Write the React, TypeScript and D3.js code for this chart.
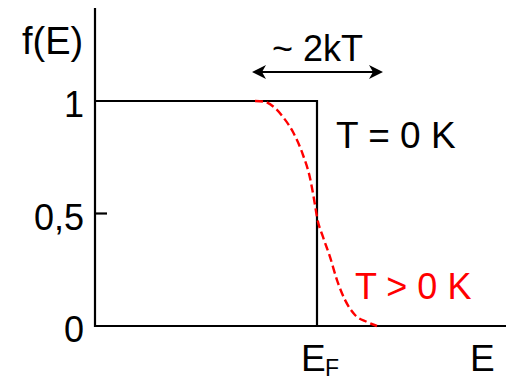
import React from "react";
import * as d3 from "d3";

// Energy (EF = 0, arbitrary units) and occupation f(E)
const curveE = [-3.1, -2.7, -2.1, -1.7, -1.2, -0.7, -0.35, -0.1, 0, 0.3, 0.65, 1.0, 1.4, 1.9, 2.5, 3.0];
const curveF = [1.0, 0.998, 0.969, 0.929, 0.862, 0.76, 0.658, 0.538, 0.484, 0.396, 0.307, 0.204, 0.116, 0.049, 0.018, 0.0];

const stepE = [-11.1, 0, 0];
const stepF = [1, 1, 0];

const yTickValues = [1, 0.5, 0];
const yTickLabels = ["1", "0,5", "0"];

const arrowSpanE = [-3.25, 3.3];

const W = 510;
const H = 381;
const FONT = "'Liberation Sans', Arial, Helvetica, sans-serif";

export default function App() {
  const x = d3.scaleLinear().domain([-11.1, 9.45]).range([95, 506]);
  const y = d3.scaleLinear().domain([0, 1]).range([326, 101]);
  const yTop = y.invert(8);

  const stepLine = d3
    .line<number>()
    .x((i) => x(stepE[i]))
    .y((i) => y(stepF[i]))(stepE.map((_, i) => i));

  const fermiLine = d3
    .line<number>()
    .x((i) => x(curveE[i]))
    .y((i) => y(curveF[i]))
    .curve(d3.curveMonotoneX)(curveE.map((_, i) => i));

  const ax1 = x(arrowSpanE[0]);
  const ax2 = x(arrowSpanE[1]);
  const ay = 72;
  const head = (tip: number, dir: number) =>
    `M${tip},${ay} L${tip + dir * 14},${ay - 7} L${tip + dir * 10},${ay} L${tip + dir * 14},${ay + 7} Z`;

  return (
    <svg
      width={W}
      height={H}
      style={{ position: "absolute", left: 0, top: 0, background: "#fff" }}
      fontFamily={FONT}
    >
      {/* axes */}
      <line x1={x(-11.1)} y1={y(yTop)} x2={x(-11.1)} y2={y(0) + 1} stroke="#000" strokeWidth={2.2} />
      <line x1={x(-11.1) - 1} y1={y(0)} x2={x(9.45)} y2={y(0)} stroke="#000" strokeWidth={2.2} />
      {/* tick at 0.5 */}
      <line x1={x(-11.1)} y1={y(0.5)} x2={x(-11.1) + 12} y2={y(0.5)} stroke="#000" strokeWidth={2.2} />

      {/* tick labels */}
      {yTickValues.map((v, i) => (
        <text key={v} x={84} y={y(v) + 16} textAnchor="end" fontSize={36} fill="#000">
          {yTickLabels[i]}
        </text>
      ))}

      {/* y axis title */}
      <text x={22} y={54} fontSize={38} fill="#000">
        f(E)
      </text>

      {/* T = 0 step */}
      <path d={stepLine || ""} fill="none" stroke="#000" strokeWidth={2.2} />

      {/* T > 0 Fermi curve */}
      <path d={fermiLine || ""} fill="none" stroke="#ff0000" strokeWidth={2.4} strokeDasharray="8,4" />

      {/* ~2kT arrow */}
      <line x1={ax1 + 8} y1={ay} x2={ax2 - 8} y2={ay} stroke="#000" strokeWidth={2.2} />
      <path d={head(ax1, 1)} fill="#000" />
      <path d={head(ax2, -1)} fill="#000" />
      <text x={272} y={61} fontSize={36} fill="#000">
        ~ 2kT
      </text>

      {/* labels */}
      <text x={336} y={148} fontSize={37} fill="#000">
        T = 0 K
      </text>
      <text x={355} y={299} fontSize={36} fill="#ff0000">
        T &gt; 0 K
      </text>

      {/* x labels */}
      <text x={x(0) - 16} y={371} fontSize={37} fill="#000">
        E
      </text>
      <text x={x(0) + 8} y={376} fontSize={23} fill="#000">
        F
      </text>
      <text x={470} y={371} fontSize={37} fill="#000">
        E
      </text>
    </svg>
  );
}
